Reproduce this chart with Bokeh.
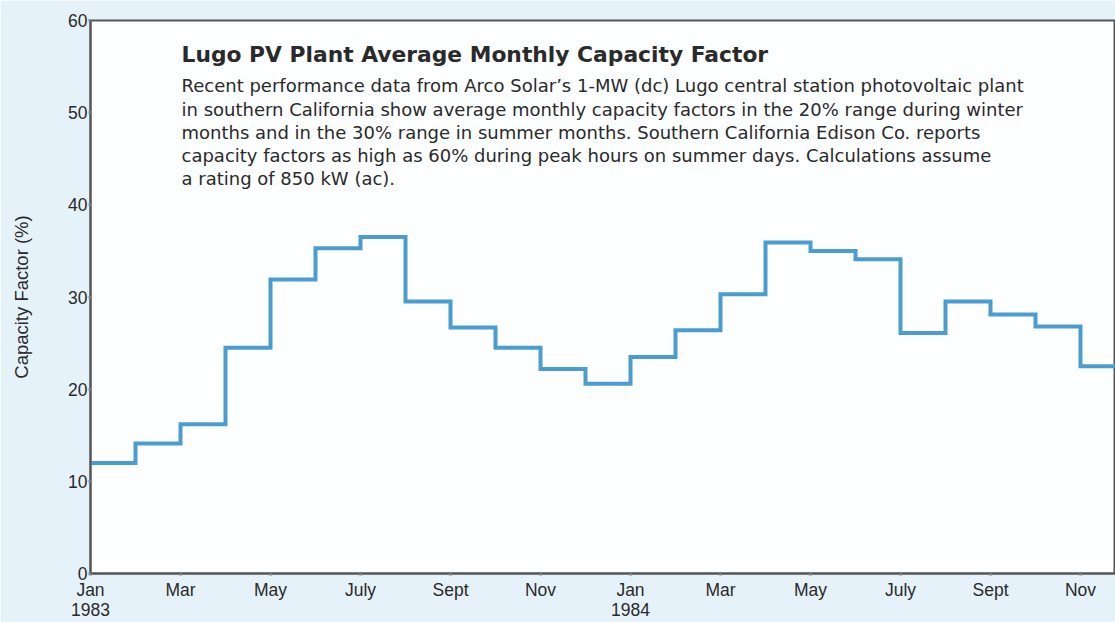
from bokeh.plotting import figure
from bokeh.models import Range1d, FixedTicker, Label, LinearAxis
from bokeh.embed import file_html
from bokeh.resources import INLINE

# Monthly capacity factor (%), Jan 1983 .. Nov 1984
cf_1983 = [12.0, 14.1, 16.2, 24.5, 31.9, 35.3, 36.5, 29.5, 26.7, 24.5, 22.2, 20.6]
cf_1984 = [23.5, 26.4, 30.3, 35.9, 35.0, 34.1, 26.1, 29.5, 28.1, 26.8, 22.5]

tick_positions = [0, 2, 4, 6, 8, 10, 12, 14, 16, 18, 20, 22]
tick_labels = ["Jan", "Mar", "May", "July", "Sept", "Nov",
               "Jan", "Mar", "May", "July", "Sept", "Nov"]
year_positions = [0, 12]
year_labels = ["1983", "1984"]
y_ticks = [0, 10, 20, 30, 40, 50, 60]

title_text = "Lugo PV Plant Average Monthly Capacity Factor"
body_lines = [
    "Recent performance data from Arco Solar\u2019s 1-MW (dc) Lugo central station photovoltaic plant",
    "in southern California show average monthly capacity factors in the 20% range during winter",
    "months and in the 30% range in summer months. Southern California Edison Co. reports",
    "capacity factors as high as 60% during peak hours on summer days. Calculations assume",
    "a rating of 850 kW (ac).",
]

values = cf_1983 + cf_1984
xs = list(range(len(values) + 1))
ys = values + [values[-1]]

AX_FONT = "Liberation Sans"
BODY_FONT = "DejaVu Sans"
TXT = "#2a2a2a"

W, H = 1115, 622
left, top, bottom = 90, 20, 49
frame_w = W - left
frame_h = H - top - bottom
px_per_month = 45.0
px_per_unit = frame_h / 60.0

p = figure(width=W, height=H, output_backend="svg", toolbar_location=None,
           x_range=Range1d(0, frame_w / px_per_month), y_range=Range1d(0, 60),
           min_border_left=left, min_border_right=0, min_border_top=top,
           min_border_bottom=bottom)
p.border_fill_color = "#e5f2fa"
p.background_fill_color = "#fdfeff"
p.outline_line_color = "#555555"
p.outline_line_width = 2
p.grid.visible = False

p.step(xs, ys, mode="after", line_color="#4c9dcf", line_width=4, line_join="miter")

# axes
p.xaxis.ticker = FixedTicker(ticks=tick_positions)
p.xaxis.major_label_overrides = {t: l for t, l in zip(tick_positions, tick_labels)}
p.yaxis.ticker = FixedTicker(ticks=y_ticks)
for ax in (p.xaxis, p.yaxis):
    ax.axis_line_color = "#555555"
    ax.axis_line_width = 2
    ax.major_tick_in = 0
    ax.major_tick_out = 2
    ax.major_tick_line_color = "#888888"
    ax.major_tick_line_width = 3
    ax.minor_tick_line_color = None
    ax.major_label_text_font = AX_FONT
    ax.major_label_text_font_size = "17.5px"
    ax.major_label_text_color = TXT
p.xaxis.major_label_standoff = 4
p.yaxis.major_label_standoff = 1
p.yaxis.axis_label = "Capacity Factor (%)"
p.yaxis.axis_label_text_font = AX_FONT
p.yaxis.axis_label_text_font_size = "18.5px"
p.yaxis.axis_label_text_font_style = "normal"
p.yaxis.axis_label_text_color = TXT
p.yaxis.axis_label_standoff = 33

# second row of x labels: the years under the January ticks
year_axis = LinearAxis(ticker=FixedTicker(ticks=year_positions),
                       major_label_overrides={t: l for t, l in zip(year_positions, year_labels)})
year_axis.axis_line_color = None
year_axis.major_tick_line_color = None
year_axis.minor_tick_line_color = None
year_axis.major_tick_in = 0
year_axis.major_tick_out = 0
year_axis.major_label_standoff = 0
year_axis.major_label_text_font = AX_FONT
year_axis.major_label_text_font_size = "17.5px"
year_axis.major_label_text_color = TXT
p.add_layout(year_axis, "below")

# title and description inside the plot
text_x = (181 - left) / px_per_month
shift = 6.5
p.add_layout(Label(x=text_x, y=(573 - 60.0 + shift) / px_per_unit, text=title_text,
                   text_font=BODY_FONT, text_font_size="21.8px", text_font_style="bold",
                   text_color=TXT, text_baseline="alphabetic"))
y0 = (573 - 91.7 + shift) / px_per_unit
dy = 23.3 / px_per_unit
for i, line in enumerate(body_lines):
    p.add_layout(Label(x=text_x, y=y0 - i * dy, text=line, text_font=BODY_FONT,
                       text_font_size="18px", text_color=TXT,
                       text_baseline="alphabetic"))

open("out.html", "w").write(file_html(p, INLINE))
